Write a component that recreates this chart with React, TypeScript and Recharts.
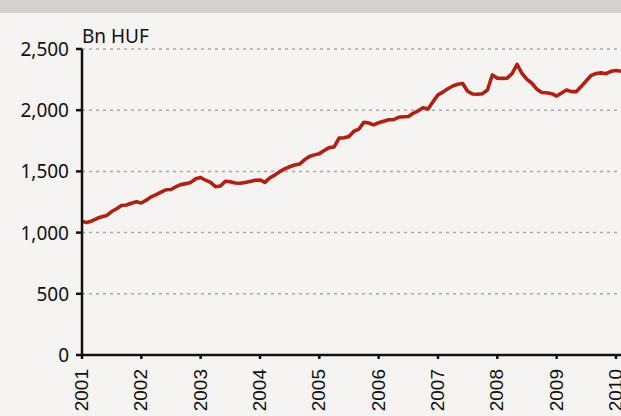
import { LineChart, Line, XAxis, YAxis, CartesianGrid } from "recharts"

// monthly stock, Jan 2001 .. Feb 2010 (Bn HUF)
const startYear = 2001
const values = [
  1090, 1082, 1095, 1115, 1130, 1140, 1172, 1195, 1222, 1225, 1240, 1252,
  1242, 1265, 1292, 1310, 1330, 1350, 1352, 1375, 1392, 1400, 1410, 1440,
  1450, 1428, 1410, 1375, 1380, 1420, 1415, 1405, 1403, 1410, 1418, 1428,
  1430, 1410, 1448, 1470, 1498, 1520, 1538, 1552, 1560, 1595, 1622, 1635,
  1645, 1670, 1694, 1700, 1772, 1775, 1785, 1828, 1845, 1902, 1895, 1880,
  1898, 1910, 1922, 1922, 1942, 1946, 1948, 1975, 1995, 2020, 2010, 2070,
  2125, 2148, 2175, 2198, 2212, 2218, 2155, 2132, 2130, 2135, 2165, 2288,
  2262, 2260, 2262, 2300, 2375, 2300, 2252, 2220, 2172, 2145, 2143, 2135,
  2116, 2140, 2165, 2152, 2152, 2195, 2240, 2285, 2300, 2305, 2298, 2318,
  2325, 2318,
]
const yearTicks = [2001, 2002, 2003, 2004, 2005, 2006, 2007, 2008, 2009, 2010]
const valueTicks = [0, 500, 1000, 1500, 2000, 2500]

const data = values.map((v, i) => ({ t: startYear + i / 12, v }))

const XTick = (props: any) => {
  const { x, y, payload } = props
  return (
    <g transform={`translate(${x},${y + 8})`}>
      <text
        transform="rotate(-90)"
        textAnchor="end"
        dy={6}
        fontFamily="Liberation Sans, Arial, sans-serif"
        fontSize={19}
        fill="#111"
      >
        {payload.value}
      </text>
    </g>
  )
}

const YTick = (props: any) => {
  const { x, y, payload } = props
  return (
    <text
      x={x - 5}
      y={y}
      dy={7}
      textAnchor="end"
      fontFamily="Noto Sans, sans-serif"
      fontSize={19}
      fill="#111"
    >
      {payload.value.toLocaleString("en-US")}
    </text>
  )
}

export default function App() {
  return (
    <div style={{ position: "relative", width: 621, height: 416, background: "#f5f4f2" }}>
      <style>{`body{margin:0}`}</style>
      <div style={{ position: "absolute", left: 0, top: 0, width: 621, height: 13, background: "#d6d1cc" }} />
      <div
        style={{
          position: "absolute",
          left: 82,
          top: 24,
          fontFamily: "Noto Sans, sans-serif",
          fontSize: 19,
          color: "#111",
          lineHeight: "24px",
        }}
      >
        Bn HUF
      </div>
      <LineChart width={621} height={416} data={data} margin={{ top: 49, right: 0, bottom: 0, left: 0 }}>
        <CartesianGrid
          vertical={false}
          stroke="#a8a8a8"
          strokeWidth={1.5}
          strokeDasharray="3 4"
          horizontalValues={[500, 1000, 1500, 2000, 2500]}
        />
        <XAxis
          type="number"
          dataKey="t"
          domain={[2001, 2010.085]}
          ticks={yearTicks}
          interval={0}
          height={61}
          tickSize={4}
          stroke="#111"
          strokeWidth={2.5}
          tickLine={{ stroke: "#111", strokeWidth: 2.5 }}
          tick={<XTick />}
        />
        <YAxis
          type="number"
          domain={[0, 2500]}
          ticks={valueTicks}
          interval={0}
          width={82}
          tickSize={6}
          stroke="#111"
          strokeWidth={2.5}
          tickLine={{ stroke: "#111", strokeWidth: 2.5 }}
          tick={<YTick />}
        />
        <Line
          type="linear"
          dataKey="v"
          stroke="#b3200f"
          strokeWidth={3.6}
          dot={false}
          isAnimationActive={false}
          strokeLinejoin="round"
        />
      </LineChart>
    </div>
  )
}
